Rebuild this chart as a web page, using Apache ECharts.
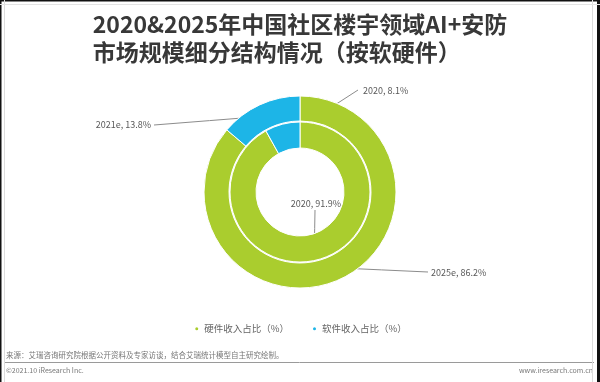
<!DOCTYPE html>
<html>
<head>
<meta charset="utf-8">
<script src="https://cdn.jsdelivr.net/npm/echarts@6/dist/echarts.min.js"></script>
<style>
html,body{margin:0;padding:0;background:#fff;}
#c{width:600px;height:382px;}
</style>
</head>
<body>
<div id="c"></div>
<script>
// ---- data ----
const categories = ['硬件收入占比（%）', '软件收入占比（%）'];
const innerYearLabels = ['2020', '2020'];
const innerValues = [91.9, 8.1];
const outerYearLabels = ['2025e', '2021e'];
const outerValues = [86.2, 13.8];
const titleText = '2020&2025年中国社区楼宇领域AI+安防\n市场规模细分结构情况（按软硬件）';
const sourceText = '来源：艾瑞咨询研究院根据公开资料及专家访谈，结合艾瑞统计模型自主研究绘制。';
const copyrightText = '©2021.10 iResearch Inc.';
const siteText = 'www.iresearch.com.cn';

// ---- style / layout ----
const colors = ['#aacd2e', '#1db5e7'];
const center = [300, 192];
const innerRadius = [44, 70];
const outerRadius = [71, 96];
const FONT = '"Noto Sans CJK SC", "Noto Sans", sans-serif';
// label placement: [seriesIndex][dataIndex]
const labelPlace = [
  [ {x: 316, y: 204, align: 'center', end: [315, 210]},
    {x: 363, y: 91, align: 'left', end: [358, 90]} ],
  [ {x: 431, y: 273, align: 'left', end: [428, 272]},
    {x: 151, y: 125, align: 'right', end: [154, 125]} ]
];

const seriesValues = [innerValues, outerValues];
const seriesRadius = [innerRadius, outerRadius];
const seriesYears = [innerYearLabels, outerYearLabels];

function centroid(s, i) {
  const vals = seriesValues[s];
  const total = vals.reduce((a, b) => a + b, 0);
  let cum = 0;
  for (let k = 0; k < i; k++) cum += vals[k];
  const frac = (cum + vals[i] / 2) / total;
  const th = frac * Math.PI * 2;
  const r = (seriesRadius[s][0] + seriesRadius[s][1]) / 2;
  return [center[0] + r * Math.sin(th), center[1] - r * Math.cos(th)];
}

function makeSeries(s) {
  return {
    type: 'pie',
    center: center,
    radius: seriesRadius[s],
    startAngle: 90,
    clockwise: true,
    avoidLabelOverlap: false,
    silent: true,
    emphasis: {disabled: true},
    itemStyle: {borderColor: '#fff', borderWidth: 1},
    label: {
      show: true,
      position: 'outside',
      fontSize: 9,
      fontFamily: FONT,
      color: '#595959',
      formatter: p => seriesYears[s][p.dataIndex] + ', ' + p.value + '%'
    },
    labelLine: {show: true, length: 5, length2: 5, lineStyle: {color: '#8c8c8c', width: 1}},
    labelLayout: function (p) {
      const L = labelPlace[s][p.dataIndex];
      const a = centroid(s, p.dataIndex);
      const mid = [(a[0] + L.end[0]) / 2, (a[1] + L.end[1]) / 2];
      return {
        x: L.x, y: L.y, align: L.align, verticalAlign: 'middle',
        labelLinePoints: [a, mid, L.end]
      };
    },
    data: seriesValues[s].map((v, i) => ({
      name: categories[i], value: v, itemStyle: {color: colors[i]}
    }))
  };
}

const chart = echarts.init(document.getElementById('c'), null, {renderer: 'canvas'});
chart.setOption({
  animation: false,
  backgroundColor: '#fff',
  title: {
    text: titleText,
    left: 'center',
    top: 5,
    textAlign: 'left',
    textStyle: {fontSize: 23, fontWeight: 'bold', color: '#383838', fontFamily: FONT, lineHeight: 28, align: 'center'}
  },
  legend: {
    data: categories,
    left: 'center',
    top: 319,
    icon: 'circle',
    itemWidth: 5,
    itemHeight: 5,
    itemGap: 22,
    selectedMode: false,
    textStyle: {fontSize: 9.5, color: '#666', fontFamily: FONT}
  },
  series: [makeSeries(0), makeSeries(1)],
  graphic: [
    {type: 'text', left: 6, top: 351, style: {text: sourceText, fontSize: 7.5, fill: '#777', fontFamily: FONT}},
    {type: 'line', shape: {x1: 5, y1: 362.5, x2: 594, y2: 362.5}, style: {stroke: '#9a9a9a', lineWidth: 1}},
    {type: 'text', left: 6, top: 367, style: {text: copyrightText, fontSize: 7, fill: '#777', fontFamily: FONT}},
    {type: 'text', right: 7, top: 367, style: {text: siteText, fontSize: 7, fill: '#777', fontFamily: FONT}},
    {type: 'rect', shape: {x: 0, y: 0, width: 600, height: 1.5}, style: {fill: '#111'}},
    {type: 'rect', shape: {x: 0, y: 0, width: 1.5, height: 382}, style: {fill: '#111'}},
    {type: 'rect', shape: {x: 597, y: 0, width: 3, height: 382}, style: {fill: '#111'}},
    {type: 'line', shape: {x1: 4.5, y1: 0, x2: 4.5, y2: 382}, style: {stroke: '#dcdcdc', lineWidth: 1}},
    {type: 'line', shape: {x1: 592.5, y1: 0, x2: 592.5, y2: 382}, style: {stroke: '#dcdcdc', lineWidth: 1}},
    {type: 'line', shape: {x1: 0, y1: 4.5, x2: 600, y2: 4.5}, style: {stroke: '#e4e4e4', lineWidth: 1}}
  ]
});
</script>
</body>
</html>
